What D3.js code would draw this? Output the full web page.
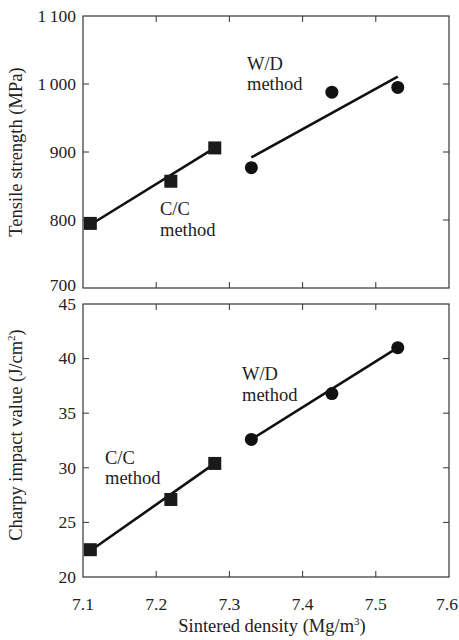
<!DOCTYPE html>
<html>
<head>
<meta charset="utf-8">
<script src="https://cdn.jsdelivr.net/npm/d3@7"></script>
<style>
  body { margin: 0; background: #fff; }
</style>
</head>
<body>
<script>
const width = 459;
const height = 640;

// sintered density values
const ccDensity = [7.11, 7.22, 7.28];
const wdDensity = [7.33, 7.44, 7.53];
const ccFitDensity = [7.11, 7.28];
const wdFitDensity = [7.33, 7.53];

// tensile strength (MPa)
const ccTensile = [795, 857, 906];
const ccTensileFit = [793, 906];
const wdTensile = [877, 988, 995];
const wdTensileFit = [892, 1011];

// charpy impact value (J/cm2)
const ccCharpy = [22.5, 27.1, 30.4];
const ccCharpyFit = [22.4, 30.4];
const wdCharpy = [32.6, 36.8, 41.0];
const wdCharpyFit = [32.6, 41.0];

const xTicks = [7.1, 7.2, 7.3, 7.4, 7.5, 7.6];
const tensileTicks = [700, 800, 900, 1000, 1100];
const charpyTicks = [20, 25, 30, 35, 40, 45];

const font = 'Liberation Serif';
const fs = 18.5;
const tickFs = 17.5;
const left = 83, right = 449;
const svg = d3.select('body').append('svg')
  .attr('width', width)
  .attr('height', height)
  .attr('font-family', font)
  .style('font-family', font);

const x = d3.scaleLinear().domain([7.1, 7.6]).range([left, right]);
const yTop = d3.scaleLinear().domain([700, 1100]).range([288, 16]);
const yBot = d3.scaleLinear().domain([20, 45]).range([577, 304]);

const fmtThousand = (d) => d >= 1000 ? String(Math.floor(d / 1000)) + '\u2009' + String(d % 1000).padStart(3, '0') : String(d);

function panel(y, yTicks, yFmt, showXLabels, lowShift) {
  const g = svg.append('g');
  const [y0, y1] = y.range();
  g.append('rect')
    .attr('x', left).attr('y', y1)
    .attr('width', right - left).attr('height', y0 - y1)
    .attr('fill', 'none').attr('stroke', '#333').attr('stroke-width', 1.2);

  const inner = xTicks.slice(1, -1);
  g.selectAll('.xtb').data(inner).join('line')
    .attr('x1', (d) => x(d)).attr('x2', (d) => x(d))
    .attr('y1', y0).attr('y2', y0 - 6)
    .attr('stroke', '#333');
  g.selectAll('.xtt').data(inner).join('line')
    .attr('x1', (d) => x(d)).attr('x2', (d) => x(d))
    .attr('y1', y1).attr('y2', y1 + 6)
    .attr('stroke', '#333');
  const yin = yTicks.slice(1, -1);
  g.selectAll('.ytl').data(yin).join('line')
    .attr('x1', left).attr('x2', left + 6)
    .attr('y1', (d) => y(d)).attr('y2', (d) => y(d))
    .attr('stroke', '#333');
  g.selectAll('.ytr').data(yin).join('line')
    .attr('x1', right).attr('x2', right - 6)
    .attr('y1', (d) => y(d)).attr('y2', (d) => y(d))
    .attr('stroke', '#333');

  g.selectAll('.ylab').data(yTicks).join('text')
    .attr('x', left - 7)
    .attr('y', (d, i) => y(d) - (i === 0 ? lowShift : 0))
    .attr('dy', '0.33em')
    .attr('text-anchor', 'end')
    .attr('font-size', tickFs)
    .attr('fill', '#222')
    .text(yFmt);

  if (showXLabels) {
    g.selectAll('.xlab').data(xTicks).join('text')
      .attr('x', (d, i) => x(d) - (i === xTicks.length - 1 ? 2 : 0))
      .attr('y', y0 + 33)
      .attr('text-anchor', 'middle')
      .attr('font-size', tickFs)
      .attr('fill', '#222')
      .text((d) => d.toFixed(1));
  }
  return g;
}

function fitLine(g, y, dens, vals) {
  g.append('path')
    .datum(d3.zip(dens, vals))
    .attr('d', d3.line().x((d) => x(d[0])).y((d) => y(d[1])))
    .attr('fill', 'none').attr('stroke', '#111').attr('stroke-width', 2.6);
}

function drawMarkers(g, y, dens, vals, shape) {
  const pts = d3.zip(dens, vals);
  if (shape === 'square') {
    g.selectAll(null).data(pts).join('rect')
      .attr('x', (d) => x(d[0]) - 6.5).attr('y', (d) => y(d[1]) - 6.5)
      .attr('width', 13).attr('height', 13)
      .attr('fill', '#1a1a1a');
  } else {
    g.selectAll(null).data(pts).join('circle')
      .attr('cx', (d) => x(d[0])).attr('cy', (d) => y(d[1]))
      .attr('r', 6.5)
      .attr('fill', '#111');
  }
}

function label(g, px, py, lines) {
  g.append('text')
    .attr('x', px).attr('y', py)
    .attr('font-size', fs)
    .attr('fill', '#222')
    .selectAll('tspan').data(lines).join('tspan')
    .attr('x', px).attr('dy', (d, i) => i === 0 ? 0 : 20.5)
    .text((d) => d);
}

// top panel
const gTop = panel(yTop, tensileTicks, fmtThousand, false, 3);
fitLine(gTop, yTop, ccFitDensity, ccTensileFit);
fitLine(gTop, yTop, wdFitDensity, wdTensileFit);
drawMarkers(gTop, yTop, ccDensity, ccTensile, 'square');
drawMarkers(gTop, yTop, wdDensity, wdTensile, 'circle');
label(gTop, 247, 69.5, ['W/D', 'method']);
label(gTop, 160, 215, ['C/C', 'method']);

// bottom panel
const gBot = panel(yBot, charpyTicks, (d) => String(d), true, 0);
fitLine(gBot, yBot, ccFitDensity, ccCharpyFit);
fitLine(gBot, yBot, wdFitDensity, wdCharpyFit);
drawMarkers(gBot, yBot, ccDensity, ccCharpy, 'square');
drawMarkers(gBot, yBot, wdDensity, wdCharpy, 'circle');
label(gBot, 242, 380, ['W/D', 'method']);
label(gBot, 105, 463.5, ['C/C', 'method']);

// axis titles
svg.append('text')
  .attr('transform', 'translate(22, 152) rotate(-90)')
  .attr('text-anchor', 'middle')
  .attr('font-size', fs)
  .attr('fill', '#222')
  .text('Tensile strength (MPa)');

const cy = svg.append('text')
  .attr('transform', 'translate(22, 435) rotate(-90)')
  .attr('text-anchor', 'middle')
  .attr('font-size', fs)
  .attr('fill', '#222');
cy.append('tspan').text('Charpy impact value (J/cm');
cy.append('tspan').attr('dy', -7).attr('font-size', 11).text('2');
cy.append('tspan').attr('dy', 7).text(')');

const xt = svg.append('text')
  .attr('x', 272).attr('y', 632)
  .attr('text-anchor', 'middle')
  .attr('font-size', fs)
  .attr('fill', '#222');
xt.append('tspan').text('Sintered density (Mg/m');
xt.append('tspan').attr('dy', -7).attr('font-size', 11).text('3');
xt.append('tspan').attr('dy', 7).text(')');
</script>
</body>
</html>
